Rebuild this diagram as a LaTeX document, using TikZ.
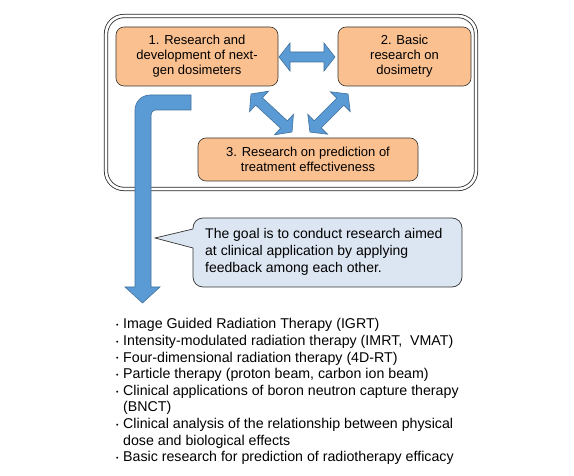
\documentclass[tikz,border=0pt]{standalone}
\usepackage{fontspec}
\setmainfont{Liberation Sans}
\definecolor{boxorange}{HTML}{FAC090}
\definecolor{arrowblue}{HTML}{5B9BD5}
\definecolor{arrowedge}{HTML}{41719C}
\definecolor{callfill}{HTML}{DCE6F2}
\newcommand\dblblock[4]{%
  \begin{scope}[shift={(#1,#2)}, rotate=#3]
    \filldraw[blockarrow] (-#4,0) -- (-#4+11,14) -- (-#4+11,5) -- (#4-11,5) -- (#4-11,14) -- (#4,0)
      -- (#4-11,-14) -- (#4-11,-5) -- (-#4+11,-5) -- (-#4+11,-14) -- cycle;
  \end{scope}}
\newcommand\itembul{\llap{\raisebox{1.2pt}{\fontsize{7}{7}\selectfont •}\hspace{4.5pt}}}
\begin{document}
\begin{tikzpicture}[x=1pt,y=-1pt,
  topic/.style={draw=black!80, fill=boxorange, rounded corners=8pt, line width=0.6pt,
    align=center, font=\fontsize{13}{15}\selectfont, inner sep=0pt},
  blockarrow/.style={fill=arrowblue, draw=arrowedge, line width=0.6pt, line join=miter},
  frame/.style={draw=black!85, double=white, double distance=2.6pt, line width=0.8pt, rounded corners=18pt},
  callout/.style={draw=black!80, fill=callfill, line width=0.7pt},
  plain/.style={align=left, inner sep=0pt}]
\useasboundingbox (0,0) rectangle (574,476);
% outer frame
\draw[frame] (106,16) rectangle (476,189);
% topic boxes
\node[topic, minimum width=162pt, minimum height=59pt] (b1) at (197,56.5)
  {1. Research and\\development of next-\\gen dosimeters};
\node[topic, minimum width=133pt, minimum height=59pt] (b2) at (404.5,56.5)
  {2. Basic\\research on\\dosimetry};
\node[topic, minimum width=220pt, minimum height=43pt] (b3) at (308,159.5)
  {3. Research on prediction of\\treatment effectiveness};
% double block arrows
\dblblock{307}{57}{0}{28}
\dblblock{271.5}{113}{-42.8}{28}
\dblblock{329}{113}{45}{27}
% bent arrow
\filldraw[blockarrow] (191,95) -- (150,95) .. controls (141.7,95) and (135,101.7) .. (135,110)
  -- (135,287) -- (125,287) -- (142.5,303) -- (160,287) -- (151,287) -- (151,116)
  .. controls (151,112.7) and (152.7,110) .. (156,110) -- (191,110) -- cycle;
% callout
\draw[callout, rounded corners=10pt] (193,218) rectangle (462,287);
\fill[callfill] (193.8,229) -- (155,238) -- (193.8,248) -- cycle;
\draw[draw=black!80, line width=0.7pt, line join=miter] (193,229) -- (155,238) -- (193,248);
\node[plain, anchor=west, font=\fontsize{14}{17}\selectfont] (goal) at (205,252)
  {The goal is to conduct research aimed\\at clinical application by applying\\feedback among each other.};
% list
\node[plain, anchor=west, font=\fontsize{14.2}{16.6}\selectfont] (list) at (123,391.7)
  {\itembul Image Guided Radiation Therapy (IGRT)\\
   \itembul Intensity-modulated radiation therapy (IMRT,\ \ VMAT)\\
   \itembul Four-dimensional radiation therapy (4D-RT)\\
   \itembul Particle therapy (proton beam, carbon ion beam)\\
   \itembul Clinical applications of boron neutron capture therapy\\
   (BNCT)\\
   \itembul Clinical analysis of the relationship between physical\\
   dose and biological effects\\
   \itembul Basic research for prediction of radiotherapy efficacy};
\end{tikzpicture}
\end{document}
